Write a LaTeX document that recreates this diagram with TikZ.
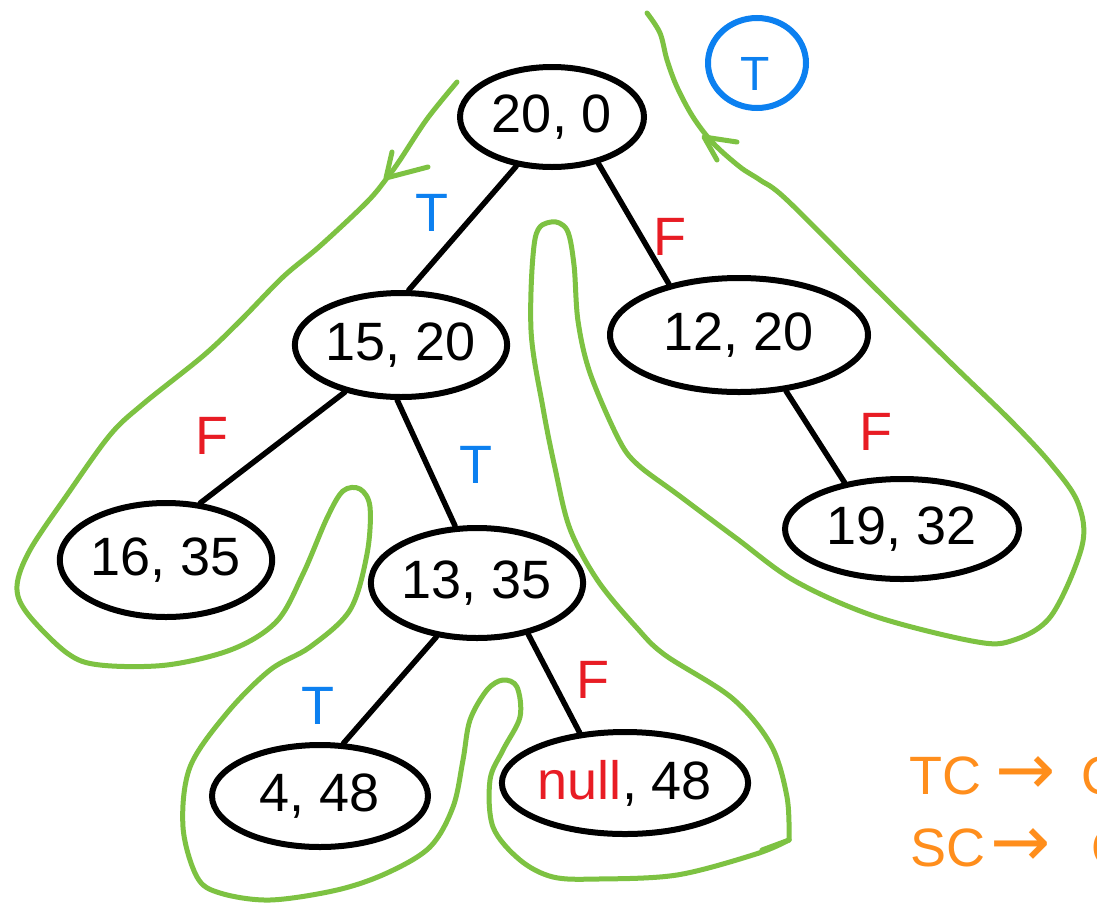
\documentclass[tikz,border=0pt]{standalone}
\usepackage{fontspec}
\setmainfont{Liberation Sans}
\newfontfamily\dejavu{DejaVu Sans}
\usetikzlibrary{shapes.geometric}
\definecolor{tgreen}{RGB}{125,194,66}
\definecolor{tblue}{RGB}{12,128,240}
\definecolor{tred}{RGB}{232,28,36}
\definecolor{torange}{RGB}{255,142,28}
\tikzset{
  tnode/.style={ellipse, draw=black, line width=6pt, inner sep=0pt, font=\fontsize{54}{60}\selectfont},
  edge/.style={line width=5.5pt, line cap=round},
  tour/.style={draw=tgreen, line width=5pt, line cap=round, line join=round},
  tlab/.style={font=\fontsize{54}{60}\selectfont, text=tblue, inner sep=0pt},
  flab/.style={font=\fontsize{54}{60}\selectfont, text=tred, inner sep=0pt},
  note/.style={font=\fontsize{54}{60}\selectfont, text=torange, anchor=base west, inner sep=0pt},
}
\begin{document}
\begin{tikzpicture}[x=1pt,y=-1pt]
\useasboundingbox (0,0) rectangle (1097,916);
\clip (0,0) rectangle (1097,916);
\fill[white] (0,0) rectangle (1097,916);

% tree nodes
\node[tnode, minimum width=184pt, minimum height=100pt] (n200) at (552,117) {20, 0};
\node[tnode, minimum width=212pt, minimum height=104pt] (n1520) at (401,345) {15, 20};
\node[tnode, minimum width=258pt, minimum height=114pt] (n1220) at (739,335) {12, 20};
\node[tnode, minimum width=234pt, minimum height=100pt] (n1932) at (902,529) {19, 32};
\node[tnode, minimum width=206pt, minimum height=114pt] (n1635) at (166,560) {16, 35};
\node[tnode, minimum width=206pt, minimum height=110pt] (n1335) at (477,583) {13, 35};
\node[tnode, minimum width=216pt, minimum height=102pt] (n448) at (320,796) {4, 48};
\node[tnode, minimum width=208pt, minimum height=102pt] (nnull) at (625,783) {{\color{tred}null}, 48};

% edges
\draw[edge] (n200.234) -- (n1520.82);
\draw[edge] (n200.315) -- (n1220.144);
\draw[edge] (n1520.220) -- (n1635.59);
\draw[edge] (n1520.266) -- (n1335.111);
\draw[edge] (n1220.310) -- (n1932.141);
\draw[edge] (n1335.233) -- (n448.66);
\draw[edge] (n1335.315) -- (nnull.132);

% edge labels
\node[tlab] (t1) at (432,213) {T};
\node[flab] (f1) at (670,237) {F};
\node[flab] (f2) at (212,436) {F};
\node[tlab] (t2) at (476,465) {T};
\node[flab] (f3) at (876,432) {F};
\node[tlab] (t3) at (318,706) {T};
\node[flab] (f4) at (593,680) {F};

% Euler tour (green)
\draw[tour] plot[smooth, tension=0.55] coordinates {
 (457,82) (427,119) (400,160) (387,178) (367,202) (320,246) (283,277) (240,321)
 (203,356) (143,404) (110,435) (67,495) (30,550) (17,586) (27,613) (67,653)
 (100,665) (167,665) (233,649) (277,621) (303,574) (327,518) (343,491) (360,489)
 (370,507) (367,554) (350,610) (310,647) (270,670) (227,713) (190,767) (183,827)
 (197,877) (220,893) (270,900) (337,890) (387,873) (430,847) (453,807) (463,760)
 (470,720) (487,690) (503,680) (517,687) (520,717) (503,750) (490,780) (493,827)
 (520,860) (553,877) (598,879) (677,875) (756,854) (789,840)};
\draw[tour] plot[smooth, tension=0.55] coordinates {
 (789,840) (787,797) (771,745) (732,698) (665,655) (637,628) (598,581) (570,529)
 (555,468) (543,408) (531,330) (535,239) (551,222) (567,230) (574,265) (578,321)
 (590,373) (618,438) (637,464) (677,494) (736,538) (795,581) (874,616) (972,641)
 (1011,641) (1051,616) (1082,546) (1078,503) (1051,464) (1011,421) (952,364)
 (874,287) (787,200) (760,180) (740,167) (713,143) (693,117) (677,87) (667,60)
 (660,33) (647,13)};
\draw[tour] (789,840) -- (762,850);
% tour arrowheads
\draw[tour] (392,152) -- (386,178) -- (428,167);
\draw[tour] (717,160) -- (704,137) -- (737,142);

% circled T
\node[ellipse, draw=tblue, line width=6pt, minimum width=98pt, minimum height=90pt, inner sep=0pt] (tc) at (757,63) {};
\node[font=\fontsize{48}{54}\selectfont, text=tblue, inner sep=0pt] (tct) at (755,74) {T};

% orange notes
\node[note] (tcn) at (909,794) {\makebox[86pt][l]{TC}\makebox[86pt][l]{\fontsize{72}{72}\dejavu →}O};
\node[note] (scn) at (910,866) {\makebox[80pt][l]{SC}\makebox[101pt][l]{\fontsize{72}{72}\dejavu →}O};
\end{tikzpicture}
\end{document}
